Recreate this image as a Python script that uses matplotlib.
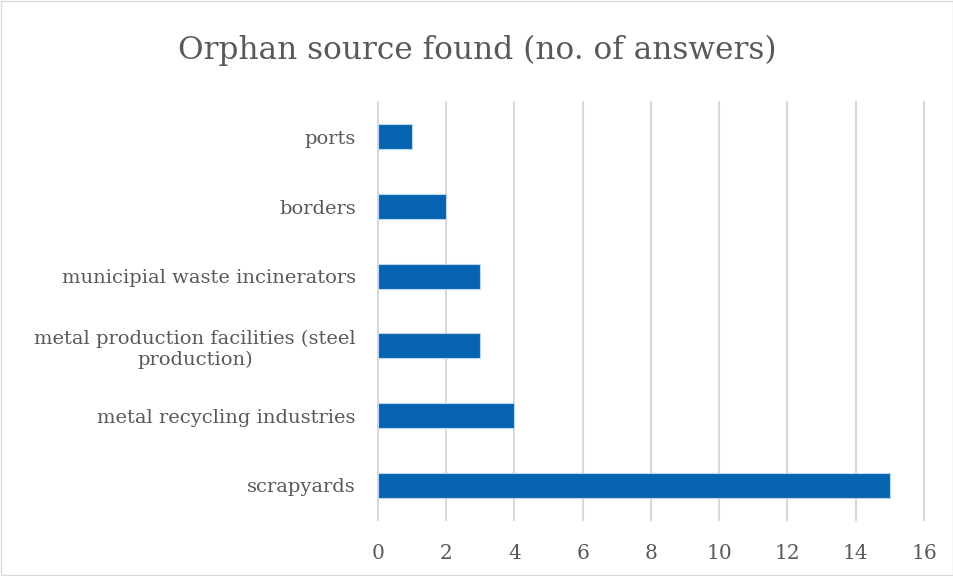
import matplotlib.pyplot as plt
from matplotlib.patches import Rectangle

categories = ['scrapyards', 'metal recycling industries',
              'metal production facilities (steel\nproduction)',
              'municipial waste incinerators', 'borders', 'ports']
answers = [15, 4, 3, 3, 2, 1]
x_ticks = [0, 2, 4, 6, 8, 10, 12, 14, 16]

plt.rcParams['font.family'] = ['DejaVu Serif']
txt = '#595959'

fig = plt.figure(figsize=(9.54, 5.76), dpi=100)
ax = fig.add_axes([0.3962, 0.0972, 0.5723, 0.7257])

ax.barh(range(len(categories)), answers, height=0.36, color='#0563b0',
        edgecolor='#bdd7ee', linewidth=0.8, zorder=3)

ax.set_xlim(0, 16)
ax.set_ylim(-0.5, len(categories) - 0.5)
ax.set_xticks(x_ticks)
ax.set_yticks(range(len(categories)))
ax.set_yticklabels(categories, multialignment='center')
ax.tick_params(axis='y', length=0, pad=16, labelsize=14, labelcolor=txt)
ax.tick_params(axis='x', length=0, pad=17, labelsize=14.5, labelcolor=txt)
ax.grid(axis='x', color='#d9d9d9', linewidth=1.5, zorder=0)
for line in ax.get_xgridlines():
    line.set_clip_on(False)
for s in ax.spines.values():
    s.set_visible(False)

fig.text(0.5, 0.912, 'Orphan source found (no. of answers)', ha='center', va='center',
         fontsize=22.5, color=txt)

fig.patches.append(Rectangle((0.001, 0.001), 0.998, 0.997, transform=fig.transFigure,
                             fill=False, edgecolor='#d9d9d9', linewidth=1))

fig.savefig('out.png', dpi=100)
